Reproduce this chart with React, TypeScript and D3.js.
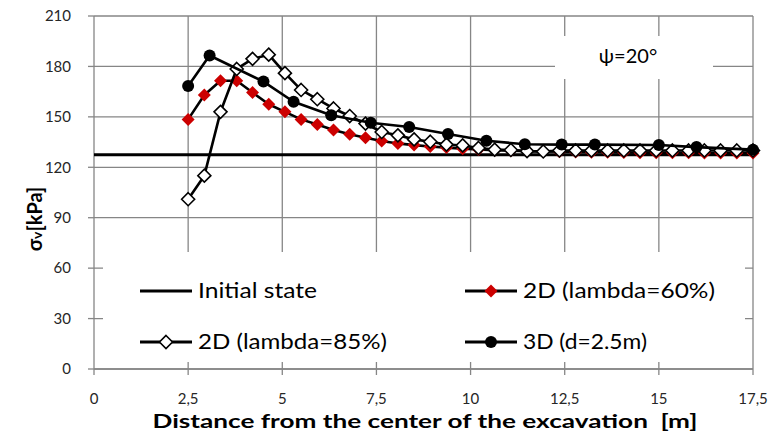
import React from "react";
import * as d3 from "d3";

// Distance from the excavation centre [m] and vertical stress σv [kPa]
const initialDistance = [0, 17.5];
const initialStress = [127.5, 127.5];

const distance2D = [
  2.5, 2.93, 3.36, 3.79, 4.21, 4.64, 5.07, 5.5, 5.93, 6.36, 6.79, 7.21,
  7.64, 8.07, 8.5, 8.93, 9.36, 9.79, 10.21, 10.64, 11.07, 11.5, 11.93, 12.36,
  12.79, 13.21, 13.64, 14.07, 14.5, 14.93, 15.36, 15.79, 16.21, 16.64, 17.07, 17.5,
];
const lambda60 = [
  148.5, 163, 171.5, 171.5, 164.5, 157.5, 153, 148.5, 145.5, 142.2, 139.6, 137.6,
  135.6, 134.2, 133.2, 132.4, 131.7, 131.1, 130.6, 130.2, 129.9, 129.6, 129.4, 129.2,
  129.1, 129, 128.9, 128.8, 128.7, 128.7, 128.6, 128.6, 128.5, 128.5, 128.5, 128.5,
];
const lambda85 = [
  101, 115, 153, 178.5, 184.5, 187, 176, 166, 160.5, 155, 150.5, 146,
  141, 139, 136.6, 135.2, 133.5, 133, 131.5, 130.5, 130.3, 129.6, 129.4, 130,
  130, 130, 130, 130, 130, 130, 130, 130, 130, 130, 130, 130,
];

const distance3D = [2.5, 3.07, 4.5, 5.3, 6.3, 7.35, 8.37, 9.4, 10.42, 11.44, 12.42, 13.3, 15.0, 16.0, 17.5];
const stress3D = [168.3, 186.5, 171, 159, 151, 146.5, 144, 139.8, 135.8, 133.7, 133.5, 133.5, 133.3, 132, 130.5];

const xTicks = [0, 2.5, 5, 7.5, 10, 12.5, 15, 17.5];
const yTicks = [0, 30, 60, 90, 120, 150, 180, 210];

const legendLabels = ["Initial state", "2D (lambda=60%)", "2D (lambda=85%)", "3D (d=2.5m)"];
const annotation = "ψ=20°";
const xTitle = "Distance from the center of the excavation  [m]";

const FONT = "Lato, 'Open Sans', sans-serif";
const GRID = "#868686";
const RED = "#cc0000";

const W = 771;
const H = 434;

const x = d3.scaleLinear().domain([0, 17.5]).range([94, 753]);
const y = d3.scaleLinear().domain([0, 210]).range([369, 16]);

const fmt = (v: number) => String(v).replace(".", ",");

type Marker = "none" | "redDiamond" | "whiteDiamond" | "circle";

function MarkerShape({ kind, cx, cy }: { kind: Marker; cx: number; cy: number }) {
  if (kind === "redDiamond") {
    const r = 6.5;
    return <path d={`M${cx},${cy - r}L${cx + r},${cy}L${cx},${cy + r}L${cx - r},${cy}Z`} fill={RED} />;
  }
  if (kind === "whiteDiamond") {
    const r = 6.5;
    return (
      <path
        d={`M${cx},${cy - r}L${cx + r},${cy}L${cx},${cy + r}L${cx - r},${cy}Z`}
        fill="#fff"
        stroke="#000"
        strokeWidth={1.6}
      />
    );
  }
  if (kind === "circle") return <circle cx={cx} cy={cy} r={6} fill="#000" />;
  return null;
}

function Series({ xs, ys, marker, width }: { xs: number[]; ys: number[]; marker: Marker; width: number }) {
  const pts = xs.map((d, i) => [x(d), y(ys[i])] as [number, number]);
  const line = d3.line<[number, number]>();
  return (
    <g>
      <path d={line(pts) || ""} fill="none" stroke="#000" strokeWidth={width} strokeLinejoin="round" />
      {pts.map(([cx, cy], i) => (
        <MarkerShape key={i} kind={marker} cx={cx} cy={cy} />
      ))}
    </g>
  );
}

export default function App() {
  const x0 = x(0);
  const x1 = x(17.5);
  const y0 = y(0);
  const yTop = y(210);

  // legend layout: two columns, two rows; text is set in a wide face
  const legendItems: { label: string; marker: Marker; lx: number; ly: number; tw: number }[] = [
    { label: legendLabels[0], marker: "none", lx: 140, ly: 291, tw: 119 },
    { label: legendLabels[1], marker: "redDiamond", lx: 465, ly: 291, tw: 192 },
    { label: legendLabels[2], marker: "whiteDiamond", lx: 140, ly: 342, tw: 189 },
    { label: legendLabels[3], marker: "circle", lx: 465, ly: 342, tw: 124 },
  ];

  return (
    <svg
      width={W}
      height={H}
      viewBox={`0 0 ${W} ${H}`}
      style={{ position: "absolute", left: 0, top: 0, background: "#fff" }}
      fontFamily={FONT}
    >
      <rect width={W} height={H} fill="#fff" />

      {/* horizontal gridlines */}
      {yTicks.map((t) => (
        <line key={`gy${t}`} x1={x0} x2={x1} y1={y(t)} y2={y(t)} stroke={GRID} strokeWidth={1.3} />
      ))}
      {/* vertical gridlines */}
      {xTicks.slice(1).map((t) => (
        <line key={`gx${t}`} x1={x(t)} x2={x(t)} y1={yTop} y2={y0} stroke={GRID} strokeWidth={1.3} />
      ))}

      {/* axes */}
      <line x1={x0} x2={x0} y1={yTop} y2={y0} stroke={GRID} strokeWidth={1.3} />
      <line x1={x0} x2={x1} y1={y0} y2={y0} stroke={GRID} strokeWidth={1.3} />
      {yTicks.map((t) => (
        <line key={`ty${t}`} x1={x0 - 6} x2={x0} y1={y(t)} y2={y(t)} stroke={GRID} strokeWidth={1.3} />
      ))}
      {xTicks.map((t) => (
        <line key={`tx${t}`} x1={x(t)} x2={x(t)} y1={y0} y2={y0 + 6} stroke={GRID} strokeWidth={1.3} />
      ))}

      {/* tick labels */}
      {yTicks.map((t) => (
        <text key={`ly${t}`} x={71} y={y(t)} dy="0.35em" textAnchor="end" fontSize={15} fill="#262626">
          {t}
        </text>
      ))}
      {xTicks.map((t) => (
        <text key={`lx${t}`} x={x(t)} y={399} dy="0.35em" textAnchor="middle" fontSize={15} fill="#262626">
          {fmt(t)}
        </text>
      ))}

      {/* annotation box */}
      <rect x={555} y={36} width={158} height={43} fill="#fff" />
      <text x={628} y={56} dy="0.35em" textAnchor="middle" fontSize={20} fill="#000">
        {annotation}
      </text>

      {/* legend box */}
      <rect x={103} y={252} width={642} height={110} fill="#fff" />
      {legendItems.map((it) => (
        <g key={it.label}>
          <line x1={it.lx} x2={it.lx + 52} y1={it.ly} y2={it.ly} stroke="#000" strokeWidth={3} />
          <MarkerShape kind={it.marker} cx={it.lx + 26} cy={it.ly} />
          <text
            x={it.lx + 58}
            y={it.ly}
            dy="0.35em"
            fontSize={21}
            fill="#000"
            textLength={it.tw}
            lengthAdjust="spacingAndGlyphs"
          >
            {it.label}
          </text>
        </g>
      ))}

      {/* data */}
      <Series xs={initialDistance} ys={initialStress} marker="none" width={3} />
      <Series xs={distance2D} ys={lambda60} marker="redDiamond" width={2.6} />
      <Series xs={distance2D} ys={lambda85} marker="whiteDiamond" width={2.6} />
      <Series xs={distance3D} ys={stress3D} marker="circle" width={2.6} />

      {/* axis titles */}
      <text
        x={425}
        y={421}
        dy="0.35em"
        textAnchor="middle"
        fontSize={19}
        fontWeight="bold"
        fill="#000"
        textLength={545}
        lengthAdjust="spacingAndGlyphs"
        style={{ whiteSpace: "pre" }}
      >
        {xTitle}
      </text>
      <text
        transform={`translate(35,219) rotate(-90)`}
        textAnchor="middle"
        dy="0.35em"
        fontSize={20}
        fontWeight="bold"
        fill="#000"
      >
        σ<tspan fontSize={14}>v</tspan>[kPa]
      </text>
    </svg>
  );
}
